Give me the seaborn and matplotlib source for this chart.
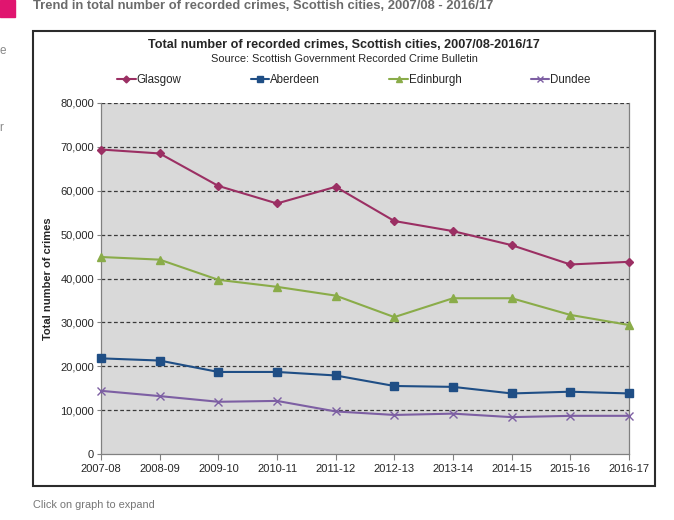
import matplotlib
matplotlib.use("Agg")
import matplotlib.pyplot as plt
import matplotlib.patches as mpatches
from matplotlib.lines import Line2D
from matplotlib.ticker import FuncFormatter, MultipleLocator
import pandas as pd
import seaborn as sns

# Data
years = ["2007-08", "2008-09", "2009-10", "2010-11", "2011-12",
         "2012-13", "2013-14", "2014-15", "2015-16", "2016-17"]
glasgow = [69400, 68500, 61100, 57100, 60900, 53100, 50800, 47600, 43200, 43800]
aberdeen = [21800, 21300, 18700, 18700, 17900, 15500, 15300, 13800, 14200, 13800]
edinburgh = [44900, 44300, 39700, 38100, 36100, 31200, 35500, 35500, 31700, 29400]
dundee = [14400, 13200, 11900, 12100, 9700, 8900, 9200, 8400, 8700, 8700]

cities = ["Glasgow", "Aberdeen", "Edinburgh", "Dundee"]
colors = {"Glasgow": "#9B2F63", "Aberdeen": "#1F4E85",
          "Edinburgh": "#8AAC49", "Dundee": "#7D5FA3"}
markers = {"Glasgow": "D", "Aberdeen": "s", "Edinburgh": "^", "Dundee": "x"}
msizes = {"Glasgow": 4.5, "Aberdeen": 6, "Edinburgh": 6, "Dundee": 6}

rows = []
for city, vals in zip(cities, [glasgow, aberdeen, edinburgh, dundee]):
    for i, v in enumerate(vals):
        rows.append({"idx": i, "year": years[i], "crimes": v, "city": city})
df = pd.DataFrame(rows)

sns.set_style("white")
plt.rcParams["font.family"] = ["Liberation Sans", "DejaVu Sans"]

fig = plt.figure(figsize=(6.74, 5.2), dpi=100)
W, H = 674, 520

# page decorations
fig.patches.append(mpatches.Rectangle((0, 1 - 17 / H), 15 / W, 17 / H,
                                      transform=fig.transFigure, color="#E0156F"))
fig.text(33 / W, 1 - 6 / H, "Trend in total number of recorded crimes, Scottish cities, 2007/08 - 2016/17",
         fontsize=9.4, fontweight="bold", color="#6b6b6b", va="center", ha="left")
fig.text(-1 / W, 1 - 51 / H, "e", fontsize=8.5, color="#888888", va="center")
fig.text(-1 / W, 1 - 128 / H, "r", fontsize=8.5, color="#888888", va="center")
fig.patches.append(mpatches.Rectangle((33 / W, 1 - 486 / H), 622 / W, 455 / H,
                                      transform=fig.transFigure, fill=False,
                                      edgecolor="#2b2b2b", linewidth=1.5))
fig.text(33 / W, 1 - 505 / H, "Click on graph to expand", fontsize=7.9,
         color="#777777", va="center", ha="left")

# chart titles
fig.text(344 / W, 1 - 45 / H, "Total number of recorded crimes, Scottish cities, 2007/08-2016/17",
         fontsize=9.1, fontweight="bold", ha="center", va="center")
fig.text(344 / W, 1 - 59 / H, "Source: Scottish Government Recorded Crime Bulletin",
         fontsize=7.9, ha="center", va="center")

ax = fig.add_axes([101 / W, 1 - 454 / H, 528 / W, 351 / H])
ax.set_facecolor("#D9D9D9")

for yv in range(10000, 80001, 10000):
    ax.axhline(yv, color="#3a3a3a", linestyle=(0, (3, 2)), linewidth=0.9, zorder=1)

for city in cities:
    sub = df[df["city"] == city]
    sns.lineplot(data=sub, x="idx", y="crimes", color=colors[city],
                 marker=markers[city], markersize=msizes[city],
                 markeredgecolor=colors[city], clip_on=False,
                 markeredgewidth=1.0, linewidth=1.5, ax=ax, zorder=3)

ax.set_xlim(0, 9)
ax.set_ylim(0, 80000)
ax.set_xticks(range(len(years)))
ax.set_xticklabels(years, fontsize=8)
ax.yaxis.set_major_locator(MultipleLocator(10000))
ax.yaxis.set_major_formatter(FuncFormatter(lambda v, p: f"{int(v):,}"))
ax.tick_params(axis="y", labelsize=8, length=3, width=0.8, color="#808080", pad=2)
ax.tick_params(axis="x", length=4, width=0.8, color="#808080", pad=3, direction="out")
ax.tick_params(left=True, bottom=True)
ax.set_xlabel("")
ax.set_ylabel("Total number of crimes", fontsize=8, fontweight="bold", labelpad=5)
for side in ["left", "bottom", "right"]:
    ax.spines[side].set_color("#808080")
    ax.spines[side].set_linewidth(0.9)
ax.spines["top"].set_visible(False)

handles = [Line2D([], [], color=colors[c], marker=markers[c],
                  markersize=msizes[c] - 1, linewidth=1.5) for c in cities]
fig.legend(handles, cities, loc="center", bbox_to_anchor=(354 / W, 1 - 80 / H),
           ncol=4, frameon=False, fontsize=8.3, handlelength=1.6,
           handletextpad=0.1, columnspacing=6.0)

fig.savefig("out.png", dpi=100)
